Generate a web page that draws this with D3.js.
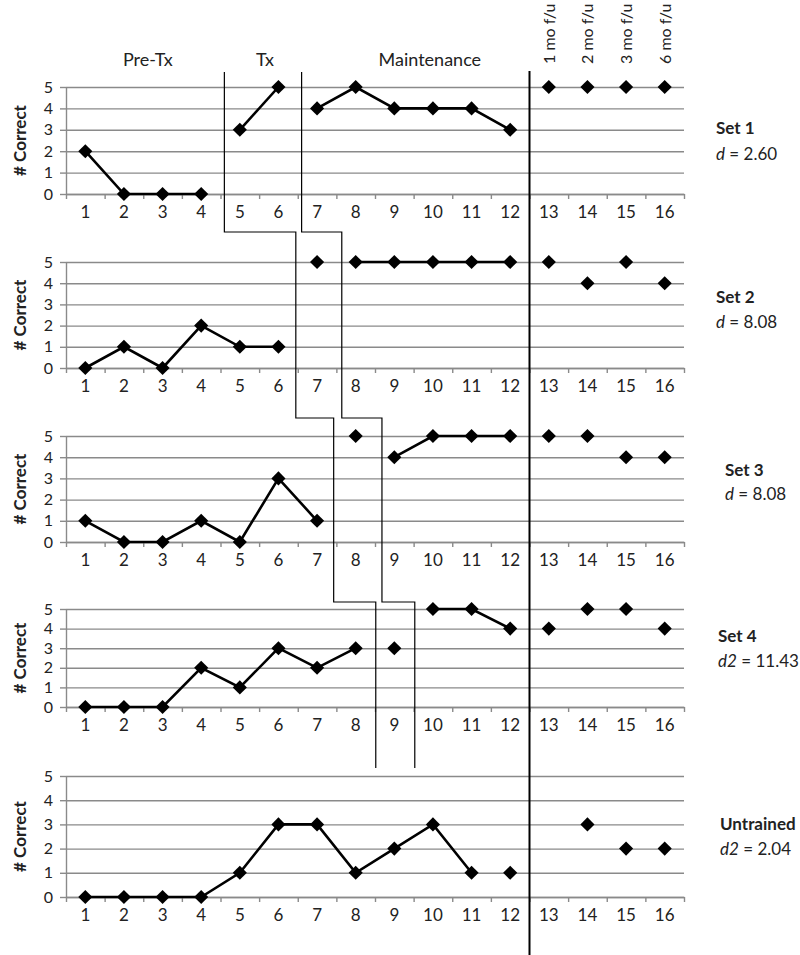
<!DOCTYPE html>
<html>
<head>
<meta charset="utf-8">
<script src="https://cdn.jsdelivr.net/npm/d3@7"></script>
<style>
  body { margin: 0; background: #fff; }
  text { font-family: Lato, "Open Sans", sans-serif; fill: #222; }
</style>
</head>
<body>
<svg id="chart" width="800" height="955"></svg>
<script>
// session numbers on every x axis
const sessions = d3.range(1, 17);
const yTicks = [0, 1, 2, 3, 4, 5];

// # correct per session (null = not probed)
const set1 = [2, 0, 0, 0, 3, 5, 4, 5, 4, 4, 4, 3, 5, 5, 5, 5];
const set2 = [0, 1, 0, 2, 1, 1, 5, 5, 5, 5, 5, 5, 5, 4, 5, 4];
const set3 = [1, 0, 0, 1, 0, 3, 1, 5, 4, 5, 5, 5, 5, 5, 4, 4];
const set4 = [0, 0, 0, 2, 1, 3, 2, 3, 3, 5, 5, 4, 4, 5, 5, 4];
const untrained = [0, 0, 0, 0, 1, 3, 3, 1, 2, 3, 1, 1, null, 3, 2, 2];

// sessions joined by a line, [first, last]
const set1Runs = [[1, 4], [5, 6], [7, 12]];
const set2Runs = [[1, 6], [8, 12]];
const set3Runs = [[1, 7], [9, 12]];
const set4Runs = [[1, 8], [10, 12]];
const untrainedRuns = [[1, 11]];

const setNames = ["Set 1", "Set 2", "Set 3", "Set 4", "Untrained"];
const effectNames = ["d", "d", "d", "d2", "d2"];
const effectValues = ["2.60", "8.08", "8.08", "11.43", "2.04"];

const phaseNames = ["Pre-Tx", "Tx", "Maintenance"];
const phasePos = [2.12, 5.15, 9.42];          // in session units
const followUpNames = ["1 mo f/u", "2 mo f/u", "3 mo f/u", "6 mo f/u"];

// phase change lines, session boundary for each set 1..4
const phaseLineA = [4.1, 5.95, 6.93, 8.02];
const phaseLineB = [6.1, 7.14, 8.18, 9.03];
const followUpStart = 12;

const series = [set1, set2, set3, set4, untrained];
const runs = [set1Runs, set2Runs, set3Runs, set4Runs, untrainedRuns];

// layout
const left = 66, right = 684;
const panels = [
  { top: 87,  bottom: 194, nameY: 128, effY: 154, labX: 716 },
  { top: 262, bottom: 368, nameY: 297, effY: 322, labX: 716 },
  { top: 436, bottom: 542, nameY: 470, effY: 494, labX: 725 },
  { top: 609, bottom: 707, nameY: 636, effY: 661, labX: 718 },
  { top: 776, bottom: 897, nameY: 824, effY: 849, labX: 720 }
];
const stepY = [72, 232, 418, 602, 768];
const gridColor = "#8a8a8a";

const svg = d3.select("#chart");

const x = d3.scaleBand().domain(sessions).range([left, right]).padding(0);
const xb = d3.scaleLinear().domain([0, 16]).range([left, right]);
const cx = s => x(s) + x.bandwidth() / 2;

const diamond = d3.symbol().type(d3.symbolSquare).size(100);

panels.forEach((p, i) => {
  const y = d3.scaleLinear().domain([0, 5]).range([p.bottom, p.top]);
  const g = svg.append("g");

  // horizontal grid
  const grid = g.append("g")
    .attr("transform", "translate(" + left + ",0)")
    .call(d3.axisLeft(y).tickValues(yTicks).tickSize(-(right - left)).tickFormat(""));
  grid.select(".domain").remove();
  grid.selectAll("line").attr("stroke", gridColor).attr("stroke-width", 1.4);

  // y axis with labels and small stubs
  const ya = g.append("g")
    .attr("transform", "translate(" + left + ",0)")
    .call(d3.axisLeft(y).tickValues(yTicks).tickFormat(d3.format("d"))
      .tickSize(6).tickPadding(7).tickSizeOuter(0));
  ya.select(".domain").attr("stroke", gridColor).attr("stroke-width", 1.4);
  ya.selectAll("line").attr("stroke", gridColor).attr("stroke-width", 1.4);
  ya.selectAll("text").style("font-size", "16px").style("font-family", "Lato, sans-serif").attr("fill", "#333");

  // x axis: tick marks at boundaries
  const xa = g.append("g")
    .attr("transform", "translate(0," + p.bottom + ")")
    .call(d3.axisBottom(xb).tickValues(d3.range(0, 17)).tickSize(5).tickFormat("").tickSizeOuter(0));
  xa.select(".domain").attr("stroke", gridColor).attr("stroke-width", 1.4);
  xa.selectAll("line").attr("stroke", gridColor).attr("stroke-width", 1.4);

  // x labels at band centres
  const xl = g.append("g")
    .attr("transform", "translate(0," + p.bottom + ")")
    .call(d3.axisBottom(x).tickSize(0).tickPadding(12));
  xl.select(".domain").remove();
  xl.selectAll("text").style("font-size", "17px").style("font-family", "Lato, sans-serif").attr("fill", "#333");

  // y title
  g.append("text")
    .attr("transform", "translate(20," + ((p.top + p.bottom) / 2) + ") rotate(-90)")
    .attr("text-anchor", "middle")
    .attr("dy", "0.35em")
    .style("font-size", "17px")
    .style("font-weight", "bold")
    .text("# Correct");

  // lines
  const vals = series[i];
  const line = d3.line().x(d => cx(d)).y(d => y(vals[d - 1]));
  runs[i].forEach(r => {
    g.append("path")
      .datum(d3.range(r[0], r[1] + 1))
      .attr("d", line)
      .attr("fill", "none")
      .attr("stroke", "#000")
      .attr("stroke-width", 2.6);
  });

  // markers
  g.selectAll(".pt")
    .data(sessions.filter(s => vals[s - 1] != null))
    .enter()
    .append("path")
      .attr("d", diamond)
      .attr("transform", d => "translate(" + cx(d) + "," + y(vals[d - 1]) + ") rotate(45)")
      .attr("fill", "#000");

  // set label
  g.append("text")
    .attr("x", p.labX).attr("y", p.nameY)
    .attr("dy", "0.35em")
    .style("font-size", "17px")
    .style("font-weight", "bold")
    .text(setNames[i]);
  const eff = g.append("text")
    .attr("x", p.labX).attr("y", p.effY)
    .attr("dy", "0.35em")
    .style("font-size", "17px");
  eff.append("tspan").style("font-style", "italic").text(effectNames[i]);
  eff.append("tspan").text(" = " + effectValues[i]);
});

// phase headers
svg.selectAll(".phase")
  .data(phaseNames)
  .enter()
  .append("text")
    .attr("x", (d, i) => xb(phasePos[i]))
    .attr("y", 60)
    .attr("dy", "0.35em")
    .attr("text-anchor", "middle")
    .style("font-size", "18px")
    .text(d => d);

svg.selectAll(".fu")
  .data(followUpNames)
  .enter()
  .append("text")
    .attr("transform", (d, i) => "translate(" + (cx(13 + i) + 6) + ",64) rotate(-90)")
    .style("font-size", "16px")
    .text(d => d);

// phase change lines (staircase)
function stairs(bounds) {
  const pts = [];
  bounds.forEach((b, k) => {
    pts.push([xb(b), stepY[k]]);
    pts.push([xb(b), stepY[k + 1]]);
  });
  return pts;
}
[phaseLineA, phaseLineB].forEach(b => {
  svg.append("path")
    .attr("d", d3.line()(stairs(b)))
    .attr("fill", "none")
    .attr("stroke", "#000")
    .attr("stroke-width", 1.2);
});

// follow-up divider
svg.append("line")
  .attr("x1", xb(followUpStart)).attr("x2", xb(followUpStart))
  .attr("y1", 71).attr("y2", 955)
  .attr("stroke", "#000")
  .attr("stroke-width", 2);
</script>
</body>
</html>
